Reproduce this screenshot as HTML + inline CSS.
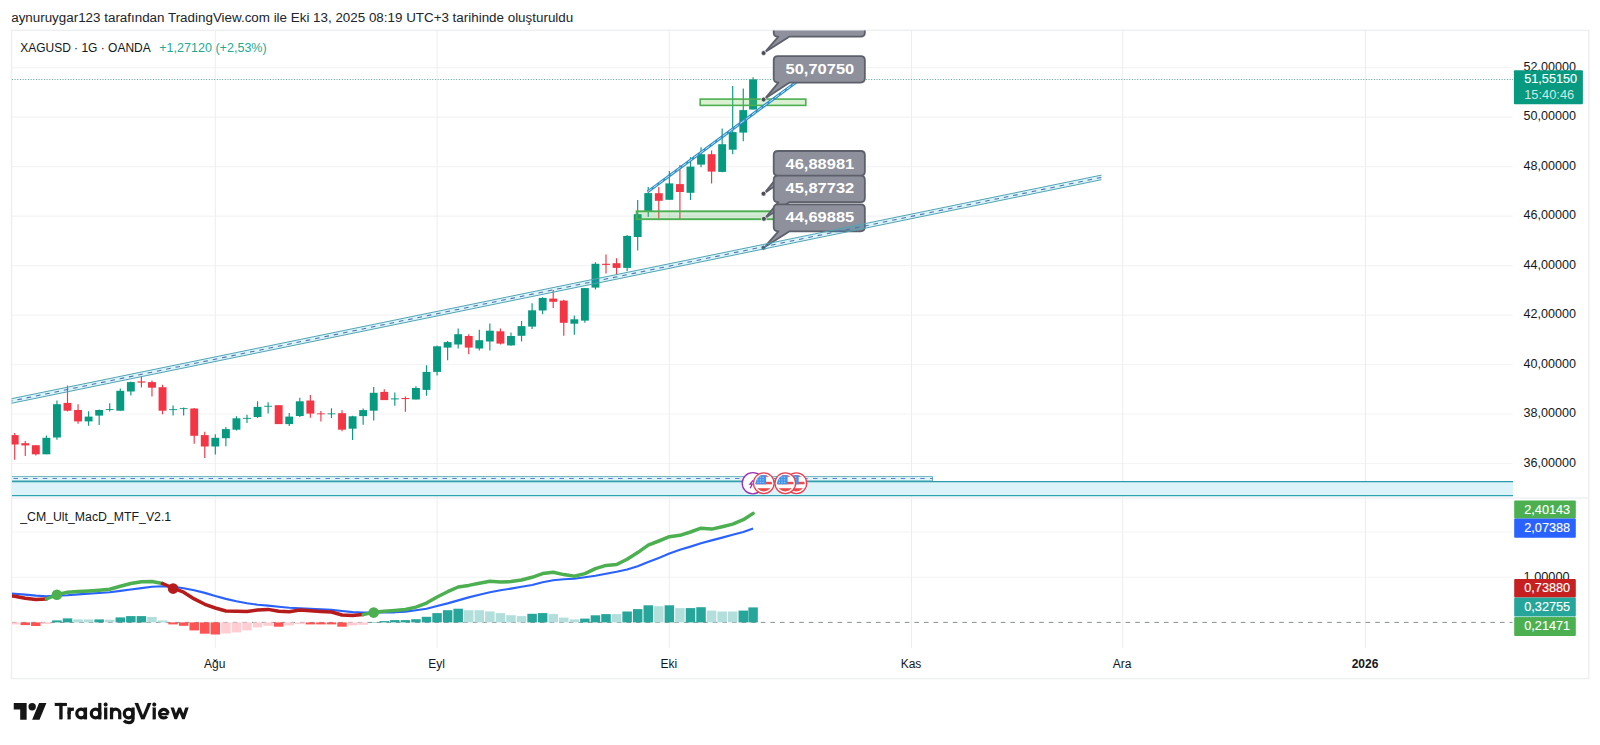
<!DOCTYPE html>
<html lang="tr"><head><meta charset="utf-8"><title>XAGUSD</title>
<style>html,body{margin:0;padding:0;background:#fff;width:1600px;height:745px;overflow:hidden}body{font-family:"Liberation Sans",sans-serif}svg text{font-family:"Liberation Sans",sans-serif}.t{stroke:none}.w{stroke:#fff;stroke-width:.12px}.g{stroke:none}</style></head>
<body>
<svg width="1600" height="745" viewBox="0 0 1600 745" style="display:block;font-family:'Liberation Sans',sans-serif">
<defs>
<clipPath id="cpMain"><rect x="11.6" y="30.6" width="1501.6" height="467"/></clipPath>
<clipPath id="cpFrame"><rect x="12" y="31" width="1577" height="647"/></clipPath>
<clipPath id="cpInd"><rect x="12" y="499" width="1500.5" height="149"/></clipPath>
<clipPath id="flag"><circle cx="0" cy="0" r="8.2"/></clipPath>
<g id="us"><circle r="10.35" fill="#fff" stroke="#f0404f" stroke-width="1.35"/><g clip-path="url(#flag)"><rect x="-9" y="-9" width="18" height="18" fill="#fff"/><rect x="-9" y="-8.6" width="18" height="2.2" fill="#ef4a4a"/><rect x="-9" y="-1.4" width="18" height="2.5" fill="#ef4a4a"/><rect x="-9" y="5.0" width="18" height="3.8" fill="#ef4a4a"/><rect x="-9" y="-9" width="11.3" height="10.1" fill="#4593e8"/><g fill="#8cc3f5"><rect x="-6.6" y="-6.6" width="1.3" height="1.3"/><rect x="-4" y="-6.6" width="1.3" height="1.3"/><rect x="-1.4" y="-6.6" width="1.3" height="1.3"/><rect x="-6.6" y="-4" width="1.3" height="1.3"/><rect x="-4" y="-4" width="1.3" height="1.3"/><rect x="-1.4" y="-4" width="1.3" height="1.3"/><rect x="-6.6" y="-1.4" width="1.3" height="1.3"/><rect x="-4" y="-1.4" width="1.3" height="1.3"/><rect x="-1.4" y="-1.4" width="1.3" height="1.3"/></g></g></g>
<clipPath id="cpW"><rect x="168" y="707.6" width="24" height="11.7"/></clipPath>
</defs>
<rect width="1600" height="745" fill="#fff"/>
<text x="11.2" y="21.9" class="t" font-size="12.45" fill="#20242c" textLength="562" lengthAdjust="spacingAndGlyphs">aynuruygar123 tarafından TradingView.com ile Eki 13, 2025 08:19 UTC+3 tarihinde oluşturuldu</text>
<rect x="11.5" y="30.3" width="1577.3" height="648.3" fill="none" stroke="#eeeff1" stroke-width="1.5"/>
<path d="M12 67.6H1512.5 M12 117.1H1512.5 M12 166.6H1512.5 M12 216.1H1512.5 M12 265.6H1512.5 M12 315.1H1512.5 M12 364.5H1512.5 M12 414.0H1512.5 M12 463.5H1512.5 M12 531.9H1512.5 M12 577.3H1512.5" stroke="#f4f4f6" stroke-width="1.05" fill="none"/>
<path d="M215.3 31V648 M437.1 31V648 M669.4 31V648 M911.5 31V648 M1122.6 31V648 M1365.5 31V648" stroke="#ececee" stroke-width="0.95" fill="none"/>
<path d="M12 498.0H1589" stroke="#f0f1f3" stroke-width="1.3"/>
<g clip-path="url(#cpMain)">
<rect x="12" y="481.5" width="1501" height="13.7" fill="#ddf3fa"/>
<path d="M12 481.55H1513" stroke="#2b9aa9" stroke-width="1.25"/>
<path d="M12 495.55H1513" stroke="#30a3b3" stroke-width="1.15"/>
<rect x="12" y="476.6" width="920.5" height="4.4" fill="#e3f6fc"/>
<path d="M12 481.0H932.5" stroke="#3a9fae" stroke-width="1"/>
<path d="M12 476.6H932.5V481" stroke="#5aacb8" stroke-width="0.9" fill="none"/>
<path d="M13.5 478.5H932.5" stroke="#5b80cc" stroke-width="1.2" stroke-dasharray="4.5 5.25"/>
<path d="M14.70 433.1V459.7" stroke="#f23645" stroke-width="1.15"/>
<rect x="10.75" y="435.1" width="7.9" height="9.4" fill="#f23645"/>
<path d="M25.26 441.1V455.9" stroke="#f23645" stroke-width="1.15"/>
<rect x="21.31" y="443.2" width="7.9" height="2.2" fill="#f23645"/>
<path d="M35.82 445.2V455.6" stroke="#f23645" stroke-width="1.15"/>
<rect x="31.87" y="445.2" width="7.9" height="9.1" fill="#f23645"/>
<path d="M46.38 435.4V454.3" stroke="#089981" stroke-width="1.15"/>
<rect x="42.43" y="437.8" width="7.9" height="16.5" fill="#089981"/>
<path d="M56.94 400.6V439.8" stroke="#089981" stroke-width="1.15"/>
<rect x="52.99" y="404.2" width="7.9" height="33.3" fill="#089981"/>
<path d="M67.49 385.4V411.6" stroke="#f23645" stroke-width="1.15"/>
<rect x="63.54" y="402.9" width="7.9" height="7.8" fill="#f23645"/>
<path d="M78.05 404.2V423.7" stroke="#f23645" stroke-width="1.15"/>
<rect x="74.10" y="410.0" width="7.9" height="11.4" fill="#f23645"/>
<path d="M88.61 411.3V425.7" stroke="#089981" stroke-width="1.15"/>
<rect x="84.66" y="416.6" width="7.9" height="4.8" fill="#089981"/>
<path d="M99.17 409.6V425.0" stroke="#089981" stroke-width="1.15"/>
<rect x="95.22" y="410.0" width="7.9" height="5.6" fill="#089981"/>
<path d="M109.73 403.2V411.6" stroke="#089981" stroke-width="1.15"/>
<rect x="105.78" y="409.1" width="7.9" height="0.9" fill="#089981"/>
<path d="M120.29 388.5V410.7" stroke="#089981" stroke-width="1.15"/>
<rect x="116.34" y="390.8" width="7.9" height="19.9" fill="#089981"/>
<path d="M130.85 381.4V395.5" stroke="#089981" stroke-width="1.15"/>
<rect x="126.90" y="382.1" width="7.9" height="9.4" fill="#089981"/>
<path d="M141.41 376.4V387.4" stroke="#f23645" stroke-width="1.15"/>
<rect x="137.46" y="381.4" width="7.9" height="1.2" fill="#f23645"/>
<path d="M151.97 380.5V396.4" stroke="#f23645" stroke-width="1.15"/>
<rect x="148.02" y="382.1" width="7.9" height="5.6" fill="#f23645"/>
<path d="M162.53 384.8V414.3" stroke="#f23645" stroke-width="1.15"/>
<rect x="158.58" y="387.2" width="7.9" height="23.5" fill="#f23645"/>
<path d="M173.08 405.6V415.6" stroke="#089981" stroke-width="1.15"/>
<rect x="169.13" y="409.2" width="7.9" height="0.9" fill="#089981"/>
<path d="M183.64 407.6V415.6" stroke="#089981" stroke-width="1.15"/>
<rect x="179.69" y="408.2" width="7.9" height="0.9" fill="#089981"/>
<path d="M194.20 408.0V443.8" stroke="#f23645" stroke-width="1.15"/>
<rect x="190.25" y="408.5" width="7.9" height="27.3" fill="#f23645"/>
<path d="M204.76 431.7V457.9" stroke="#f23645" stroke-width="1.15"/>
<rect x="200.81" y="435.1" width="7.9" height="11.4" fill="#f23645"/>
<path d="M215.32 434.2V454.6" stroke="#089981" stroke-width="1.15"/>
<rect x="211.37" y="437.8" width="7.9" height="8.7" fill="#089981"/>
<path d="M225.88 427.0V446.2" stroke="#089981" stroke-width="1.15"/>
<rect x="221.93" y="429.1" width="7.9" height="9.1" fill="#089981"/>
<path d="M236.44 416.3V430.4" stroke="#089981" stroke-width="1.15"/>
<rect x="232.49" y="418.3" width="7.9" height="11.4" fill="#089981"/>
<path d="M247.00 414.7V423.0" stroke="#089981" stroke-width="1.15"/>
<rect x="243.05" y="417.9" width="7.9" height="0.9" fill="#089981"/>
<path d="M257.56 401.3V417.9" stroke="#089981" stroke-width="1.15"/>
<rect x="253.61" y="406.9" width="7.9" height="10.1" fill="#089981"/>
<path d="M268.12 402.2V413.6" stroke="#089981" stroke-width="1.15"/>
<rect x="264.17" y="405.8" width="7.9" height="0.9" fill="#089981"/>
<path d="M278.67 405.2V424.1" stroke="#f23645" stroke-width="1.15"/>
<rect x="274.72" y="405.2" width="7.9" height="18.9" fill="#f23645"/>
<path d="M289.23 413.0V426.1" stroke="#089981" stroke-width="1.15"/>
<rect x="285.28" y="416.6" width="7.9" height="7.5" fill="#089981"/>
<path d="M299.79 397.8V417.0" stroke="#089981" stroke-width="1.15"/>
<rect x="295.84" y="401.3" width="7.9" height="14.7" fill="#089981"/>
<path d="M310.35 395.1V417.7" stroke="#f23645" stroke-width="1.15"/>
<rect x="306.40" y="400.5" width="7.9" height="13.1" fill="#f23645"/>
<path d="M320.91 410.9V421.6" stroke="#f23645" stroke-width="1.15"/>
<rect x="316.96" y="413.4" width="7.9" height="0.9" fill="#f23645"/>
<path d="M331.47 408.2V417.9" stroke="#089981" stroke-width="1.15"/>
<rect x="327.52" y="413.4" width="7.9" height="0.9" fill="#089981"/>
<path d="M342.03 410.2V431.3" stroke="#f23645" stroke-width="1.15"/>
<rect x="338.08" y="413.2" width="7.9" height="16.5" fill="#f23645"/>
<path d="M352.59 415.8V439.9" stroke="#089981" stroke-width="1.15"/>
<rect x="348.64" y="416.3" width="7.9" height="12.4" fill="#089981"/>
<path d="M363.15 408.5V424.8" stroke="#089981" stroke-width="1.15"/>
<rect x="359.20" y="410.1" width="7.9" height="6.0" fill="#089981"/>
<path d="M373.71 387.0V420.5" stroke="#089981" stroke-width="1.15"/>
<rect x="369.76" y="392.8" width="7.9" height="17.9" fill="#089981"/>
<path d="M384.26 389.3V400.1" stroke="#f23645" stroke-width="1.15"/>
<rect x="380.31" y="391.9" width="7.9" height="8.2" fill="#f23645"/>
<path d="M394.82 392.6V405.8" stroke="#089981" stroke-width="1.15"/>
<rect x="390.87" y="398.4" width="7.9" height="1.0" fill="#089981"/>
<path d="M405.38 396.4V411.8" stroke="#f23645" stroke-width="1.15"/>
<rect x="401.43" y="398.0" width="7.9" height="1.1" fill="#f23645"/>
<path d="M415.94 386.3V399.5" stroke="#089981" stroke-width="1.15"/>
<rect x="411.99" y="388.0" width="7.9" height="11.5" fill="#089981"/>
<path d="M426.50 365.2V395.7" stroke="#089981" stroke-width="1.15"/>
<rect x="422.55" y="371.9" width="7.9" height="18.0" fill="#089981"/>
<path d="M437.06 345.4V375.6" stroke="#089981" stroke-width="1.15"/>
<rect x="433.11" y="346.3" width="7.9" height="25.6" fill="#089981"/>
<path d="M447.62 341.1V360.2" stroke="#089981" stroke-width="1.15"/>
<rect x="443.67" y="342.1" width="7.9" height="5.5" fill="#089981"/>
<path d="M458.18 328.4V348.5" stroke="#089981" stroke-width="1.15"/>
<rect x="454.23" y="334.2" width="7.9" height="10.3" fill="#089981"/>
<path d="M468.74 334.2V354.3" stroke="#f23645" stroke-width="1.15"/>
<rect x="464.79" y="336.0" width="7.9" height="11.6" fill="#f23645"/>
<path d="M479.30 329.7V350.5" stroke="#089981" stroke-width="1.15"/>
<rect x="475.35" y="340.2" width="7.9" height="8.3" fill="#089981"/>
<path d="M489.85 323.4V350.5" stroke="#089981" stroke-width="1.15"/>
<rect x="485.90" y="330.7" width="7.9" height="10.8" fill="#089981"/>
<path d="M500.41 328.4V344.5" stroke="#f23645" stroke-width="1.15"/>
<rect x="496.46" y="331.3" width="7.9" height="12.3" fill="#f23645"/>
<path d="M510.97 332.4V345.8" stroke="#089981" stroke-width="1.15"/>
<rect x="507.02" y="336.0" width="7.9" height="9.4" fill="#089981"/>
<path d="M521.53 321.0V341.5" stroke="#089981" stroke-width="1.15"/>
<rect x="517.58" y="326.1" width="7.9" height="9.7" fill="#089981"/>
<path d="M532.09 303.3V329.1" stroke="#089981" stroke-width="1.15"/>
<rect x="528.14" y="310.3" width="7.9" height="16.3" fill="#089981"/>
<path d="M542.65 297.2V314.3" stroke="#089981" stroke-width="1.15"/>
<rect x="538.70" y="297.9" width="7.9" height="12.6" fill="#089981"/>
<path d="M553.21 290.1V308.0" stroke="#f23645" stroke-width="1.15"/>
<rect x="549.26" y="298.6" width="7.9" height="3.2" fill="#f23645"/>
<path d="M563.77 299.8V335.8" stroke="#f23645" stroke-width="1.15"/>
<rect x="559.82" y="300.6" width="7.9" height="22.2" fill="#f23645"/>
<path d="M574.33 315.6V334.7" stroke="#089981" stroke-width="1.15"/>
<rect x="570.38" y="319.3" width="7.9" height="4.4" fill="#089981"/>
<path d="M584.89 288.1V322.8" stroke="#089981" stroke-width="1.15"/>
<rect x="580.94" y="288.1" width="7.9" height="32.5" fill="#089981"/>
<path d="M595.45 262.2V289.6" stroke="#089981" stroke-width="1.15"/>
<rect x="591.50" y="263.8" width="7.9" height="23.8" fill="#089981"/>
<path d="M606.00 254.4V273.5" stroke="#f23645" stroke-width="1.15"/>
<rect x="602.05" y="263.8" width="7.9" height="1.1" fill="#f23645"/>
<path d="M616.56 258.2V273.9" stroke="#f23645" stroke-width="1.15"/>
<rect x="612.61" y="263.2" width="7.9" height="4.7" fill="#f23645"/>
<path d="M627.12 235.0V271.2" stroke="#089981" stroke-width="1.15"/>
<rect x="623.17" y="235.9" width="7.9" height="32.0" fill="#089981"/>
<path d="M637.68 200.1V250.4" stroke="#089981" stroke-width="1.15"/>
<rect x="633.73" y="214.2" width="7.9" height="22.8" fill="#089981"/>
<path d="M648.24 187.0V216.8" stroke="#089981" stroke-width="1.15"/>
<rect x="644.29" y="193.1" width="7.9" height="17.9" fill="#089981"/>
<path d="M658.80 187.0V218.8" stroke="#f23645" stroke-width="1.15"/>
<rect x="654.85" y="193.2" width="7.9" height="7.6" fill="#f23645"/>
<path d="M669.36 170.9V199.8" stroke="#089981" stroke-width="1.15"/>
<rect x="665.41" y="183.4" width="7.9" height="16.4" fill="#089981"/>
<path d="M679.92 164.9V219.3" stroke="#f23645" stroke-width="1.15"/>
<rect x="675.97" y="184.1" width="7.9" height="7.9" fill="#f23645"/>
<path d="M690.48 157.2V200.1" stroke="#089981" stroke-width="1.15"/>
<rect x="686.53" y="166.6" width="7.9" height="26.2" fill="#089981"/>
<path d="M701.03 147.2V167.3" stroke="#089981" stroke-width="1.15"/>
<rect x="697.08" y="154.2" width="7.9" height="10.4" fill="#089981"/>
<path d="M711.59 150.5V183.4" stroke="#f23645" stroke-width="1.15"/>
<rect x="707.64" y="154.2" width="7.9" height="17.4" fill="#f23645"/>
<path d="M722.15 128.5V172.3" stroke="#089981" stroke-width="1.15"/>
<rect x="718.20" y="144.2" width="7.9" height="27.7" fill="#089981"/>
<path d="M732.71 86.0V154.2" stroke="#089981" stroke-width="1.15"/>
<rect x="728.76" y="132.1" width="7.9" height="17.6" fill="#089981"/>
<path d="M743.27 88.5V141.3" stroke="#089981" stroke-width="1.15"/>
<rect x="739.32" y="110.1" width="7.9" height="22.5" fill="#089981"/>
<path d="M753.08 77.2V109.5" stroke="#089981" stroke-width="1.15"/>
<rect x="749.13" y="79.3" width="7.9" height="30.2" fill="#089981"/>
<rect x="636.6" y="211.3" width="170" height="7.9" fill="rgba(76,175,80,0.24)" stroke="#4caf50" stroke-width="1.9"/>
<rect x="700.2" y="99.1" width="105.6" height="6.3" fill="rgba(120,200,90,0.28)" stroke="#4caf50" stroke-width="1.6"/>
<path d="M12 79.5H1513" stroke="#5aa596" stroke-width="1" stroke-dasharray="1 1.66"/>
<path d="M647.6 191.8L798 80.8" stroke="#2b8ec6" stroke-width="2.9" stroke-linecap="butt"/>
<path d="M647.6 191.8L798 80.8" stroke="#d4edf9" stroke-width="0.9" stroke-dasharray="5 2.2"/>
<path d="M777.90 10.20H860.65Q864.85 10.20 864.85 14.40V32.40Q864.85 36.60 860.65 36.60H789.60L764.80 52.30L778.40 36.60H777.90Q773.70 36.60 773.70 32.40V14.40Q773.70 10.20 777.90 10.20Z" fill="#8e909c" stroke="#5d606b" stroke-width="1.8" stroke-linejoin="round"/>
<circle cx="763.6" cy="53.1" r="2.5" fill="#4b4e59" stroke="#fff" stroke-width="0.8"/>
<path d="M777.90 56.10H860.65Q864.85 56.10 864.85 60.30V78.35Q864.85 82.55 860.65 82.55H789.60L764.80 98.80L778.40 82.55H777.90Q773.70 82.55 773.70 78.35V60.30Q773.70 56.10 777.90 56.10Z" fill="#8e909c" stroke="#5d606b" stroke-width="1.8" stroke-linejoin="round"/>
<circle cx="763.6" cy="99.6" r="2.5" fill="#4b4e59" stroke="#fff" stroke-width="0.8"/>
<text x="819.9" y="73.8" font-size="15.3" font-weight="700" fill="#fff" text-anchor="middle" textLength="68.7" lengthAdjust="spacingAndGlyphs">50,70750</text>
<path d="M777.90 151.00H860.65Q864.85 151.00 864.85 155.20V171.60Q864.85 175.80 860.65 175.80H789.60L764.70 192.90L778.40 175.80H777.90Q773.70 175.80 773.70 171.60V155.20Q773.70 151.00 777.90 151.00Z" fill="#8e909c" stroke="#5d606b" stroke-width="1.8" stroke-linejoin="round"/>
<circle cx="763.5" cy="193.7" r="2.5" fill="#4b4e59" stroke="#fff" stroke-width="0.8"/>
<text x="819.9" y="168.7" font-size="15.3" font-weight="700" fill="#fff" text-anchor="middle" textLength="68.7" lengthAdjust="spacingAndGlyphs">46,88981</text>
<path d="M777.90 175.70H860.65Q864.85 175.70 864.85 179.90V197.90Q864.85 202.10 860.65 202.10H789.60L765.10 218.00L778.40 202.10H777.90Q773.70 202.10 773.70 197.90V179.90Q773.70 175.70 777.90 175.70Z" fill="#8e909c" stroke="#5d606b" stroke-width="1.8" stroke-linejoin="round"/>
<circle cx="763.9" cy="218.8" r="2.5" fill="#4b4e59" stroke="#fff" stroke-width="0.8"/>
<text x="819.9" y="193.4" font-size="15.3" font-weight="700" fill="#fff" text-anchor="middle" textLength="68.7" lengthAdjust="spacingAndGlyphs">45,87732</text>
<path d="M777.90 204.40H860.65Q864.85 204.40 864.85 208.60V227.10Q864.85 231.30 860.65 231.30H789.60L764.70 246.90L778.40 231.30H777.90Q773.70 231.30 773.70 227.10V208.60Q773.70 204.40 777.90 204.40Z" fill="#8e909c" stroke="#5d606b" stroke-width="1.8" stroke-linejoin="round"/>
<circle cx="763.5" cy="247.7" r="2.5" fill="#4b4e59" stroke="#fff" stroke-width="0.8"/>
<text x="819.9" y="222.1" font-size="15.3" font-weight="700" fill="#fff" text-anchor="middle" textLength="68.7" lengthAdjust="spacingAndGlyphs">44,69885</text>
<path d="M8 399.4L1101.5 175.1L1101.5 179.7L8 404.0Z" fill="rgba(0,180,225,0.15)"/>
<path d="M8 399.4L1101.5 175.1M8 404.0L1101.5 179.7" stroke="#52a4b3" stroke-width="1.0" fill="none"/>
<path d="M8 401.7L1101.5 177.4" stroke="#526fae" stroke-width="1.05" stroke-dasharray="4.6 4.9" fill="none"/>
<g transform="translate(752.8 483.2)"><circle r="10.6" fill="#fff" stroke="#9c32b4" stroke-width="1.35"/><path d="M0.3 -2.8L-2.8 1.0L-0.6 1.0L-2.6 5" stroke="#9c27b0" stroke-width="1.3" fill="none"/></g>
<use href="#us" x="796.4" y="483.2"/>
<use href="#us" x="763.8" y="483.2"/>
<use href="#us" x="785.3" y="483.2"/>
</g>
<text x="20.2" y="51.6" class="t" font-size="12" fill="#131722" textLength="130.5" lengthAdjust="spacingAndGlyphs">XAGUSD · 1G · OANDA</text>
<text x="159.3" y="51.6" class="g" font-size="12" fill="#22ab94" textLength="107.4" lengthAdjust="spacingAndGlyphs">+1,27120 (+2,53%)</text>
<text x="20.2" y="520.7" class="t" font-size="12" fill="#131722" textLength="151" lengthAdjust="spacingAndGlyphs">_CM_Ult_MacD_MTF_V2.1</text>
<text x="1523.6" y="70.8" class="t" font-size="12.5" fill="#131722" textLength="52.4" lengthAdjust="spacingAndGlyphs">52,00000</text>
<text x="1523.6" y="120.2" class="t" font-size="12.5" fill="#131722" textLength="52.4" lengthAdjust="spacingAndGlyphs">50,00000</text>
<text x="1523.6" y="169.7" class="t" font-size="12.5" fill="#131722" textLength="52.4" lengthAdjust="spacingAndGlyphs">48,00000</text>
<text x="1523.6" y="219.2" class="t" font-size="12.5" fill="#131722" textLength="52.4" lengthAdjust="spacingAndGlyphs">46,00000</text>
<text x="1523.6" y="268.7" class="t" font-size="12.5" fill="#131722" textLength="52.4" lengthAdjust="spacingAndGlyphs">44,00000</text>
<text x="1523.6" y="318.2" class="t" font-size="12.5" fill="#131722" textLength="52.4" lengthAdjust="spacingAndGlyphs">42,00000</text>
<text x="1523.6" y="367.7" class="t" font-size="12.5" fill="#131722" textLength="52.4" lengthAdjust="spacingAndGlyphs">40,00000</text>
<text x="1523.6" y="417.2" class="t" font-size="12.5" fill="#131722" textLength="52.4" lengthAdjust="spacingAndGlyphs">38,00000</text>
<text x="1523.6" y="466.7" class="t" font-size="12.5" fill="#131722" textLength="52.4" lengthAdjust="spacingAndGlyphs">36,00000</text>
<text x="1523.6" y="580.5" class="t" font-size="12.5" fill="#131722" textLength="46" lengthAdjust="spacingAndGlyphs">1,00000</text>
<text x="1523.6" y="535.6" class="t" font-size="12.5" fill="#131722" textLength="46" lengthAdjust="spacingAndGlyphs">2,00000</text>
<rect x="1513.9" y="70.2" width="69" height="34" rx="1" fill="#089981"/>
<text x="1524.2" y="83.0" class="w" font-size="12.5" fill="#fff" textLength="53" lengthAdjust="spacingAndGlyphs">51,55150</text>
<text x="1524.2" y="98.5" font-size="12.5" fill="#c9ebe4" textLength="50" lengthAdjust="spacingAndGlyphs">15:40:46</text>
<g clip-path="url(#cpInd)">
<path d="M12 622.4H1513" stroke="#85878f" stroke-width="0.95" stroke-dasharray="4.6 5.0"/>
<rect x="9.95" y="622.4" width="9.5" height="2.0" fill="#ffcdd2"/>
<rect x="20.51" y="622.4" width="9.5" height="2.7" fill="#ff5252"/>
<rect x="31.07" y="622.4" width="9.5" height="3.6" fill="#ff5252"/>
<rect x="41.63" y="622.4" width="9.5" height="1.6" fill="#ffcdd2"/>
<rect x="52.19" y="620.4" width="9.5" height="2.0" fill="#26a69a"/>
<rect x="62.74" y="618.4" width="9.5" height="4.0" fill="#26a69a"/>
<rect x="73.30" y="619.4" width="9.5" height="3.0" fill="#b2dfdb"/>
<rect x="83.86" y="619.4" width="9.5" height="3.0" fill="#b2dfdb"/>
<rect x="94.42" y="619.4" width="9.5" height="3.0" fill="#26a69a"/>
<rect x="104.98" y="619.7" width="9.5" height="2.7" fill="#b2dfdb"/>
<rect x="115.54" y="617.4" width="9.5" height="5.0" fill="#26a69a"/>
<rect x="126.10" y="616.1" width="9.5" height="6.3" fill="#26a69a"/>
<rect x="136.66" y="616.1" width="9.5" height="6.3" fill="#26a69a"/>
<rect x="147.22" y="617.0" width="9.5" height="5.4" fill="#b2dfdb"/>
<rect x="157.78" y="620.4" width="9.5" height="2.0" fill="#b2dfdb"/>
<rect x="168.33" y="622.4" width="9.5" height="2.0" fill="#ff5252"/>
<rect x="178.89" y="622.4" width="9.5" height="3.4" fill="#ff5252"/>
<rect x="189.45" y="622.4" width="9.5" height="8.0" fill="#ff5252"/>
<rect x="200.01" y="622.4" width="9.5" height="11.3" fill="#ff5252"/>
<rect x="210.57" y="622.4" width="9.5" height="12.1" fill="#ff5252"/>
<rect x="221.13" y="622.4" width="9.5" height="11.1" fill="#ffcdd2"/>
<rect x="231.69" y="622.4" width="9.5" height="10.0" fill="#ffcdd2"/>
<rect x="242.25" y="622.4" width="9.5" height="8.0" fill="#ffcdd2"/>
<rect x="252.81" y="622.4" width="9.5" height="5.0" fill="#ffcdd2"/>
<rect x="263.37" y="622.4" width="9.5" height="3.4" fill="#ffcdd2"/>
<rect x="273.92" y="622.4" width="9.5" height="4.3" fill="#ff5252"/>
<rect x="284.48" y="622.4" width="9.5" height="3.0" fill="#ffcdd2"/>
<rect x="295.04" y="622.4" width="9.5" height="1.7" fill="#ffcdd2"/>
<rect x="305.60" y="622.4" width="9.5" height="2.0" fill="#ff5252"/>
<rect x="316.16" y="622.4" width="9.5" height="2.0" fill="#ff5252"/>
<rect x="326.72" y="622.4" width="9.5" height="2.0" fill="#ff5252"/>
<rect x="337.28" y="622.4" width="9.5" height="4.3" fill="#ff5252"/>
<rect x="347.84" y="622.4" width="9.5" height="3.0" fill="#ffcdd2"/>
<rect x="358.40" y="622.4" width="9.5" height="2.4" fill="#ffcdd2"/>
<rect x="368.96" y="622.0" width="9.5" height="0.4" fill="#26a69a"/>
<rect x="379.51" y="621.1" width="9.5" height="1.3" fill="#26a69a"/>
<rect x="390.07" y="620.1" width="9.5" height="2.3" fill="#26a69a"/>
<rect x="400.63" y="620.1" width="9.5" height="2.3" fill="#26a69a"/>
<rect x="411.19" y="619.2" width="9.5" height="3.2" fill="#26a69a"/>
<rect x="421.75" y="616.8" width="9.5" height="5.6" fill="#26a69a"/>
<rect x="432.31" y="613.1" width="9.5" height="9.3" fill="#26a69a"/>
<rect x="442.87" y="610.2" width="9.5" height="12.2" fill="#26a69a"/>
<rect x="453.43" y="608.7" width="9.5" height="13.7" fill="#26a69a"/>
<rect x="463.99" y="610.2" width="9.5" height="12.2" fill="#b2dfdb"/>
<rect x="474.55" y="610.2" width="9.5" height="12.2" fill="#b2dfdb"/>
<rect x="485.10" y="611.4" width="9.5" height="11.0" fill="#b2dfdb"/>
<rect x="495.66" y="613.1" width="9.5" height="9.3" fill="#b2dfdb"/>
<rect x="506.22" y="615.2" width="9.5" height="7.2" fill="#b2dfdb"/>
<rect x="516.78" y="616.1" width="9.5" height="6.3" fill="#b2dfdb"/>
<rect x="527.34" y="613.8" width="9.5" height="8.6" fill="#26a69a"/>
<rect x="537.90" y="613.1" width="9.5" height="9.3" fill="#26a69a"/>
<rect x="548.46" y="614.1" width="9.5" height="8.3" fill="#b2dfdb"/>
<rect x="559.02" y="617.6" width="9.5" height="4.8" fill="#b2dfdb"/>
<rect x="569.58" y="619.4" width="9.5" height="3.0" fill="#b2dfdb"/>
<rect x="580.14" y="618.6" width="9.5" height="3.8" fill="#26a69a"/>
<rect x="590.70" y="615.3" width="9.5" height="7.1" fill="#26a69a"/>
<rect x="601.25" y="614.1" width="9.5" height="8.3" fill="#26a69a"/>
<rect x="611.81" y="614.1" width="9.5" height="8.3" fill="#b2dfdb"/>
<rect x="622.37" y="611.5" width="9.5" height="10.9" fill="#26a69a"/>
<rect x="632.93" y="609.1" width="9.5" height="13.3" fill="#26a69a"/>
<rect x="643.49" y="605.3" width="9.5" height="17.1" fill="#26a69a"/>
<rect x="654.05" y="606.2" width="9.5" height="16.2" fill="#b2dfdb"/>
<rect x="664.61" y="605.3" width="9.5" height="17.1" fill="#26a69a"/>
<rect x="675.17" y="608.1" width="9.5" height="14.3" fill="#b2dfdb"/>
<rect x="685.73" y="608.1" width="9.5" height="14.3" fill="#26a69a"/>
<rect x="696.28" y="607.2" width="9.5" height="15.2" fill="#26a69a"/>
<rect x="706.84" y="610.6" width="9.5" height="11.8" fill="#b2dfdb"/>
<rect x="717.40" y="611.5" width="9.5" height="10.9" fill="#b2dfdb"/>
<rect x="727.96" y="611.5" width="9.5" height="10.9" fill="#b2dfdb"/>
<rect x="738.52" y="610.6" width="9.5" height="11.8" fill="#26a69a"/>
<rect x="748.33" y="607.4" width="9.5" height="15.0" fill="#26a69a"/>
<path d="M4.1 593.3L14.7 593.8L25.3 594.6L35.8 595.6L46.4 596.2L56.9 595.6L67.5 595.2L78.1 594.4L88.6 593.6L99.2 593.0L109.7 592.2L120.3 590.9L130.8 589.5L141.4 588.1L152.0 586.8L162.5 586.2L173.1 586.8L183.6 588.2L194.2 590.2L204.8 592.9L215.3 596.0L225.9 598.9L236.4 601.3L247.0 603.2L257.6 604.7L268.1 605.6L278.7 606.7L289.2 607.7L299.8 608.3L310.4 608.7L320.9 609.3L331.5 609.9L342.0 611.0L352.6 612.1L363.1 612.6L373.7 612.6L384.3 612.3L394.8 612.3L405.4 611.6L415.9 610.2L426.5 608.7L437.1 606.0L447.6 603.4L458.2 600.4L468.7 597.4L479.3 594.8L489.9 592.3L500.4 590.3L511.0 588.6L521.5 586.7L532.1 585.0L542.6 582.3L553.2 580.3L563.8 579.2L574.3 578.7L584.9 577.3L595.4 575.8L606.0 573.7L616.6 571.8L627.1 569.5L637.7 566.2L648.2 562.0L658.8 557.9L669.4 553.6L679.9 549.8L690.5 546.6L701.0 543.2L711.6 540.4L722.2 537.6L732.7 534.8L743.3 532.0L753.1 528.6" stroke="#2962ff" stroke-width="2.15" fill="none" stroke-linejoin="round"/>
<path d="M4.1 595.4L14.7 596.3L25.3 598.3L35.8 599.6L46.4 599.0" stroke="#b71c1c" stroke-width="3.5" fill="none" stroke-linecap="round" stroke-linejoin="round"/>
<path d="M46.4 599.0L56.9 594.6L67.5 592.2L78.1 591.5L88.6 590.9L99.2 590.2L109.7 589.3L120.3 586.2L130.8 583.5L141.4 581.7L152.0 581.5L162.5 583.5" stroke="#4caf50" stroke-width="3.5" fill="none" stroke-linecap="round" stroke-linejoin="round"/>
<path d="M162.5 583.5L173.1 588.2L183.6 592.2L194.2 598.9L204.8 604.3L215.3 608.0L225.9 611.0L236.4 611.3L247.0 611.4L257.6 610.0L268.1 609.4L278.7 611.3L289.2 611.7L299.8 610.0L310.4 610.7L320.9 611.4L331.5 612.0L342.0 615.0L352.6 615.4L363.1 614.6" stroke="#b71c1c" stroke-width="3.5" fill="none" stroke-linecap="round" stroke-linejoin="round"/>
<path d="M363.1 614.6L373.7 612.3L384.3 611.3L394.8 610.4L405.4 609.5L415.9 607.1L426.5 603.1L437.1 597.0L447.6 591.7L458.2 587.0L468.7 585.4L479.3 583.2L489.9 581.3L500.4 582.0L511.0 581.6L521.5 580.0L532.1 577.3L542.6 573.6L553.2 572.2L563.8 574.6L574.3 576.2L584.9 573.6L595.4 568.6L606.0 565.4L616.6 564.5L627.1 559.2L637.7 552.6L648.2 545.1L658.8 541.0L669.4 536.7L679.9 535.3L690.5 532.0L701.0 528.2L711.6 529.1L722.2 526.7L732.7 524.1L743.3 519.7L753.1 513.4" stroke="#4caf50" stroke-width="3.5" fill="none" stroke-linecap="round" stroke-linejoin="round"/>
<circle cx="56.9" cy="594.8" r="5.3" fill="#4caf50"/>
<circle cx="173.1" cy="588.6" r="5.3" fill="#b71c1c"/>
<circle cx="373.7" cy="612.6" r="5.3" fill="#4caf50"/>
</g>
<rect x="1514.2" y="500.5" width="61.6" height="18.1" rx="1" fill="#4caf50"/>
<text x="1524.2" y="513.5" class="w" font-size="12.3" fill="#fff" textLength="46" lengthAdjust="spacingAndGlyphs">2,40143</text>
<rect x="1514.2" y="518.6" width="61.6" height="19.1" rx="1" fill="#2962ff"/>
<text x="1524.2" y="532.0" class="w" font-size="12.3" fill="#fff" textLength="46" lengthAdjust="spacingAndGlyphs">2,07388</text>
<rect x="1514.2" y="579.0" width="61.6" height="18.6" rx="1" fill="#c62020"/>
<text x="1524.2" y="592.2" class="w" font-size="12.3" fill="#fff" textLength="46" lengthAdjust="spacingAndGlyphs">0,73880</text>
<rect x="1514.2" y="597.6" width="61.6" height="19.0" rx="1" fill="#26a69a"/>
<text x="1524.2" y="611.0" class="w" font-size="12.3" fill="#fff" textLength="46" lengthAdjust="spacingAndGlyphs">0,32755</text>
<rect x="1514.2" y="617.0" width="61.6" height="19.0" rx="1" fill="#4caf50"/>
<text x="1524.2" y="630.4" class="w" font-size="12.3" fill="#fff" textLength="46" lengthAdjust="spacingAndGlyphs">0,21471</text>
<path d="M1514.2 616.8H1575.8" stroke="#9be0c8" stroke-width="1" stroke-dasharray="1.2 2"/>
<text x="214.8" y="667.6" class="t" font-size="12" fill="#131722" text-anchor="middle">Ağu</text>
<text x="436.6" y="667.6" class="t" font-size="12" fill="#131722" text-anchor="middle">Eyl</text>
<text x="668.9" y="667.6" class="t" font-size="12" fill="#131722" text-anchor="middle">Eki</text>
<text x="911.0" y="667.6" class="t" font-size="12" fill="#131722" text-anchor="middle">Kas</text>
<text x="1122.1" y="667.6" class="t" font-size="12" fill="#131722" text-anchor="middle">Ara</text>
<text x="1365.0" y="667.6" class="t" font-size="12" fill="#131722" text-anchor="middle" font-weight="700">2026</text>
<g transform="translate(13.75 699.4) scale(0.92)" fill="#161616"><path d="M14 22H7V11H0V4h14v18zM28 22h-8l7.5-18h8L28 22z"/><circle cx="20" cy="8" r="4"/></g>
<g fill="#141414" stroke="#141414" stroke-width="0.15"><rect x="54.9" y="703" width="12" height="2.95"/><rect x="59.3" y="703" width="3.25" height="16.3"/><rect x="67.6" y="707.6" width="3.1" height="11.7"/><rect x="83.9" y="707.6" width="3.1" height="11.7"/><rect x="98.2" y="703" width="3.1" height="16.3"/><rect x="104.1" y="707.6" width="3.1" height="11.7"/><circle cx="105.65" cy="704.5" r="1.9"/><rect x="152.7" y="707.6" width="3.1" height="11.7"/><circle cx="154.25" cy="704.5" r="1.9"/><path d="M134.6 703H138.2L142.9 715.2L147.8 703H151.3L144.5 719.3H141.2Z"/></g><g fill="none" stroke="#141414" stroke-width="3.25"><path d="M69.15 714V712.2Q69.15 709.1 73.9 709.1"/><circle cx="81.1" cy="713.45" r="4.3"/><circle cx="95.6" cy="713.45" r="4.3"/><path d="M111.55 719.3V707.6M111.55 713.2A4.1 4.1 0 0 1 119.75 713.2V719.3"/><circle cx="128.6" cy="713.45" r="4.3"/><path d="M133.05 707.6V718.4Q133.05 722.6 128.5 722.6Q125.6 722.6 123.9 720.7"/><path d="M168.05 713.45A4.3 4.3 0 1 0 167.0 716.5"/><path d="M159.6 714.1H168.6" stroke-width="2.3"/><path d="M171.9 706.6L175.75 718.0L179.6 708.6L183.45 718.0L187.3 706.6" stroke-linejoin="miter" stroke-miterlimit="10" clip-path="url(#cpW)"/></g>
</svg>
</body></html>
